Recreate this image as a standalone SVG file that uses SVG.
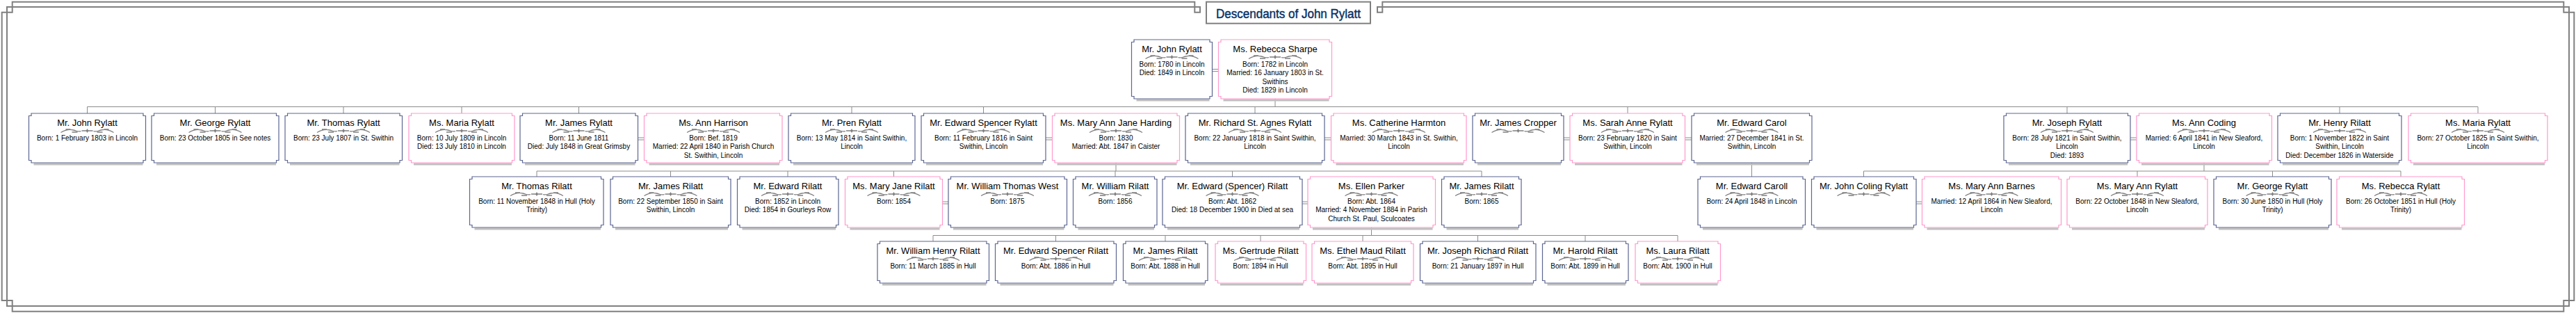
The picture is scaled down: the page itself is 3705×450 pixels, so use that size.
<svg xmlns="http://www.w3.org/2000/svg" xmlns:xlink="http://www.w3.org/1999/xlink" width="3705" height="450" viewBox="0 0 3705 450">
<style>
.m{fill:#fff;stroke:#5c6692;stroke-width:1.2}
.f{fill:#fff;stroke:#ff99cc;stroke-width:1.2}
.sh{fill:#c0c0c0}
.nm{font-family:"Liberation Sans",Arial,sans-serif;font-size:13px;fill:#000;text-anchor:middle}
.dt{font-family:"Liberation Sans",Arial,sans-serif;font-size:10px;fill:#000;text-anchor:middle}
.cn{fill:none;stroke:#8c8c8c;stroke-width:1}
.fr{fill:none;stroke:#808080;stroke-width:2}
.tt{font-family:"Liberation Sans",Arial,sans-serif;font-size:18px;fill:#0a3366;stroke:#0a3366;stroke-width:0.45;text-anchor:middle}
</style>
<defs>
<g id="orn">
<path d="M-38,2.5 C-32,-1 -26,-2.5 -20,-1 S-13,2 -9,0.5 M38,2.5 C32,-1 26,-2.5 20,-1 S13,2 9,0.5 M-31,-2 H-24 M31,-2 H24 M-8,0 H8 M-22,2 H-14 M22,2 H14" fill="none" stroke="#7f7f7f" stroke-width="1.3"/>
<path d="M0,-3 L1.8,0 L0,3 L-1.8,0 Z" fill="#7f7f7f"/>
</g>
</defs>
<rect width="3705" height="450" fill="#fff"/>
<g id="frame">
<path class="fr" d="M1726,10 H10 V440 H3695 V10 H1981 V17.7 H1988.3 V2.7 H3687.3 V17.7 H3702.3 V432 H3687.3 V447.7 H17.7 V432 H2.7 V17.7 H17.7 V2.7 H1718.3 V17.7 H1726 Z"/>
<rect class="fr" x="1735" y="2.7" width="236" height="31" fill="#fff"/>
<text class="tt" x="1853" y="26" textLength="208" lengthAdjust="spacingAndGlyphs">Descendants of John Rylatt</text>
</g>
<g id="connectors" class="cn">
<path d="M1834,142 V153.5 M125.5,153.5 H3564 M125.5,153.5 V163 M309.5,153.5 V163 M494,153.5 V163 M664,153.5 V163 M832.5,153.5 V163 M1225,153.5 V163 M1414.5,153.5 V163 M1805,153.5 V163 M2341,153.5 V163 M2973,153.5 V163 M3365,153.5 V163 M3564,153.5 V163"/>
<path d="M1605,234 V246 M772,246 H2131 M772,246 V254 M964.5,246 V254 M1133,246 V254 M1285.5,246 V254 M1604,246 V254 M1772.5,246 V254 M2131,246 V254"/>
<path d="M2519.5,234 V254"/>
<path d="M3170,234 V246 M2680.5,246 H3453 M2680.5,246 V254 M3074,246 V254 M3268.5,246 V254 M3453,246 V254"/>
<path d="M1972.5,327 V338.5 M1342,338.5 H2413 M1342,338.5 V347 M1518.5,338.5 V347 M1676,338.5 V347 M1813,338.5 V347 M1960,338.5 V347 M2125.5,338.5 V347 M2280,338.5 V347 M2413,338.5 V347"/>
<path d="M1743.5,99.5 H1752.5 M1743.5,102.5 H1752.5"/>
<path d="M917.5,198 H926.5 M917.5,201 H926.5 M1504,198 H1513.5 M1504,201 H1513.5 M1905,198 H1914.5 M1905,201 H1914.5 M2249,198 H2258 M2249,201 H2258 M2423.5,198 H2433 M2423.5,201 H2433 M3064,198 H3073 M3064,201 H3073"/>
<path d="M1355.5,290 H1364 M1355.5,293 H1364 M1873,290 H1881 M1873,293 H1881 M2756,290 H2764.5 M2756,293 H2764.5"/>
</g>

<g id="g1-john-rylatt"><rect class="sh" x="1634.5" y="142.5" width="105" height="3"/><path class="m" d="M1631,57H1740V60.5H1743.5V138.5H1740V142H1631V138.5H1627.5V60.5H1631Z"/><text class="nm" x="1685.5" y="75">Mr. John Rylatt</text><use xlink:href="#orn" x="1685.5" y="82"/><text class="dt" x="1685.5" y="95.5">Born: 1780 in Lincoln</text><text class="dt" x="1685.5" y="108">Died: 1849 in Lincoln</text></g>
<g id="g1-rebecca-sharpe"><rect class="sh" x="1759.5" y="142.5" width="152" height="3"/><path class="f" d="M1756,57H1912V60.5H1915.5V138.5H1912V142H1756V138.5H1752.5V60.5H1756Z"/><text class="nm" x="1834" y="75">Ms. Rebecca Sharpe</text><use xlink:href="#orn" x="1834" y="82"/><text class="dt" x="1834" y="95.5">Born: 1782 in Lincoln</text><text class="dt" x="1834" y="108">Married: 16 January 1803 in St.</text><text class="dt" x="1834" y="120.5">Swithins</text><text class="dt" x="1834" y="133">Died: 1829 in Lincoln</text></g>

<g id="g2-john-rylatt"><rect class="sh" x="48.5" y="234.5" width="157" height="3"/><path class="m" d="M45,163H206V166.5H209.5V230.5H206V234H45V230.5H41.5V166.5H45Z"/><text class="nm" x="125.5" y="181">Mr. John Rylatt</text><use xlink:href="#orn" x="125.5" y="188"/><text class="dt" x="125.5" y="201.5">Born: 1 February 1803 in Lincoln</text></g>
<g id="g2-george-rylatt"><rect class="sh" x="225" y="234.5" width="172" height="3"/><path class="m" d="M221.5,163H397.5V166.5H401V230.5H397.5V234H221.5V230.5H218V166.5H221.5Z"/><text class="nm" x="309.5" y="181">Mr. George Rylatt</text><use xlink:href="#orn" x="309.5" y="188"/><text class="dt" x="309.5" y="201.5">Born: 23 October 1805 in See notes</text></g>
<g id="g2-thomas-rylatt"><rect class="sh" x="417" y="234.5" width="157.5" height="3"/><path class="m" d="M413.5,163H575V166.5H578.5V230.5H575V234H413.5V230.5H410V166.5H413.5Z"/><text class="nm" x="494" y="181">Mr. Thomas Rylatt</text><use xlink:href="#orn" x="494" y="188"/><text class="dt" x="494" y="201.5">Born: 23 July 1807 in St. Swithin</text></g>
<g id="g2-maria-rylatt"><rect class="sh" x="595" y="234.5" width="141" height="3"/><path class="f" d="M591.5,163H736.5V166.5H740V230.5H736.5V234H591.5V230.5H588V166.5H591.5Z"/><text class="nm" x="664" y="181">Ms. Maria Rylatt</text><use xlink:href="#orn" x="664" y="188"/><text class="dt" x="664" y="201.5">Born: 10 July 1809 in Lincoln</text><text class="dt" x="664" y="214">Died: 13 July 1810 in Lincoln</text></g>
<g id="g2-james-rylatt"><rect class="sh" x="755" y="234.5" width="158.5" height="3"/><path class="m" d="M751.5,163H914V166.5H917.5V230.5H914V234H751.5V230.5H748V166.5H751.5Z"/><text class="nm" x="832.5" y="181">Mr. James Rylatt</text><use xlink:href="#orn" x="832.5" y="188"/><text class="dt" x="832.5" y="201.5">Born: 11 June 1811</text><text class="dt" x="832.5" y="214">Died: July 1848 in Great Grimsby</text></g>
<g id="g2-ann-harrison"><rect class="sh" x="933.5" y="234.5" width="187.5" height="3"/><path class="f" d="M930,163H1121.5V166.5H1125V230.5H1121.5V234H930V230.5H926.5V166.5H930Z"/><text class="nm" x="1026" y="181">Ms. Ann Harrison</text><use xlink:href="#orn" x="1026" y="188"/><text class="dt" x="1026" y="201.5">Born: Bef. 1819</text><text class="dt" x="1026" y="214">Married: 22 April 1840 in Parish Church</text><text class="dt" x="1026" y="226.5">St. Swithin, Lincoln</text></g>
<g id="g2-pren-rylatt"><rect class="sh" x="1141" y="234.5" width="171" height="3"/><path class="m" d="M1137.5,163H1312.5V166.5H1316V230.5H1312.5V234H1137.5V230.5H1134V166.5H1137.5Z"/><text class="nm" x="1225" y="181">Mr. Pren Rylatt</text><use xlink:href="#orn" x="1225" y="188"/><text class="dt" x="1225" y="201.5">Born: 13 May 1814 in Saint Swithin,</text><text class="dt" x="1225" y="214">Lincoln</text></g>
<g id="g2-edward-spencer-rylatt"><rect class="sh" x="1332" y="234.5" width="168" height="3"/><path class="m" d="M1328.5,163H1500.5V166.5H1504V230.5H1500.5V234H1328.5V230.5H1325V166.5H1328.5Z"/><text class="nm" x="1414.5" y="181">Mr. Edward Spencer Rylatt</text><use xlink:href="#orn" x="1414.5" y="188"/><text class="dt" x="1414.5" y="201.5">Born: 11 February 1816 in Saint</text><text class="dt" x="1414.5" y="214">Swithin, Lincoln</text></g>
<g id="g2-mary-ann-jane-harding"><rect class="sh" x="1520.5" y="234.5" width="172" height="3"/><path class="f" d="M1517,163H1693V166.5H1696.5V230.5H1693V234H1517V230.5H1513.5V166.5H1517Z"/><text class="nm" x="1605" y="181">Ms. Mary Ann Jane Harding</text><use xlink:href="#orn" x="1605" y="188"/><text class="dt" x="1605" y="201.5">Born: 1830</text><text class="dt" x="1605" y="214">Married: Abt. 1847 in Caister</text></g>
<g id="g2-richard-st-agnes-rylatt"><rect class="sh" x="1712" y="234.5" width="189" height="3"/><path class="m" d="M1708.5,163H1901.5V166.5H1905V230.5H1901.5V234H1708.5V230.5H1705V166.5H1708.5Z"/><text class="nm" x="1805" y="181">Mr. Richard St. Agnes Rylatt</text><use xlink:href="#orn" x="1805" y="188"/><text class="dt" x="1805" y="201.5">Born: 22 January 1818 in Saint Swithin,</text><text class="dt" x="1805" y="214">Lincoln</text></g>
<g id="g2-catherine-harmton"><rect class="sh" x="1921.5" y="234.5" width="183.5" height="3"/><path class="f" d="M1918,163H2105.5V166.5H2109V230.5H2105.5V234H1918V230.5H1914.5V166.5H1918Z"/><text class="nm" x="2012" y="181">Ms. Catherine Harmton</text><use xlink:href="#orn" x="2012" y="188"/><text class="dt" x="2012" y="201.5">Married: 30 March 1843 in St. Swithin,</text><text class="dt" x="2012" y="214">Lincoln</text></g>
<g id="g2-james-cropper"><rect class="sh" x="2125" y="234.5" width="120" height="3"/><path class="m" d="M2121.5,163H2245.5V166.5H2249V230.5H2245.5V234H2121.5V230.5H2118V166.5H2121.5Z"/><text class="nm" x="2183.5" y="181">Mr. James Cropper</text><use xlink:href="#orn" x="2183.5" y="188"/></g>
<g id="g2-sarah-anne-rylatt"><rect class="sh" x="2265" y="234.5" width="154.5" height="3"/><path class="f" d="M2261.5,163H2420V166.5H2423.5V230.5H2420V234H2261.5V230.5H2258V166.5H2261.5Z"/><text class="nm" x="2341" y="181">Ms. Sarah Anne Rylatt</text><use xlink:href="#orn" x="2341" y="188"/><text class="dt" x="2341" y="201.5">Born: 23 February 1820 in Saint</text><text class="dt" x="2341" y="214">Swithin, Lincoln</text></g>
<g id="g2-edward-carol"><rect class="sh" x="2440" y="234.5" width="162" height="3"/><path class="m" d="M2436.5,163H2602.5V166.5H2606V230.5H2602.5V234H2436.5V230.5H2433V166.5H2436.5Z"/><text class="nm" x="2519.5" y="181">Mr. Edward Carol</text><use xlink:href="#orn" x="2519.5" y="188"/><text class="dt" x="2519.5" y="201.5">Married: 27 December 1841 in St.</text><text class="dt" x="2519.5" y="214">Swithin, Lincoln</text></g>
<g id="g2-joseph-rylatt"><rect class="sh" x="2889" y="234.5" width="171" height="3"/><path class="m" d="M2885.5,163H3060.5V166.5H3064V230.5H3060.5V234H2885.5V230.5H2882V166.5H2885.5Z"/><text class="nm" x="2973" y="181">Mr. Joseph Rylatt</text><use xlink:href="#orn" x="2973" y="188"/><text class="dt" x="2973" y="201.5">Born: 28 July 1821 in Saint Swithin,</text><text class="dt" x="2973" y="214">Lincoln</text><text class="dt" x="2973" y="226.5">Died: 1893</text></g>
<g id="g2-ann-coding"><rect class="sh" x="3080" y="234.5" width="183.5" height="3"/><path class="f" d="M3076.5,163H3264V166.5H3267.5V230.5H3264V234H3076.5V230.5H3073V166.5H3076.5Z"/><text class="nm" x="3170" y="181">Ms. Ann Coding</text><use xlink:href="#orn" x="3170" y="188"/><text class="dt" x="3170" y="201.5">Married: 6 April 1841 in New Sleaford,</text><text class="dt" x="3170" y="214">Lincoln</text></g>
<g id="g2-henry-rilatt"><rect class="sh" x="3283" y="234.5" width="167" height="3"/><path class="m" d="M3279.5,163H3450.5V166.5H3454V230.5H3450.5V234H3279.5V230.5H3276V166.5H3279.5Z"/><text class="nm" x="3365" y="181">Mr. Henry Rilatt</text><use xlink:href="#orn" x="3365" y="188"/><text class="dt" x="3365" y="201.5">Born: 1 November 1822 in Saint</text><text class="dt" x="3365" y="214">Swithin, Lincoln</text><text class="dt" x="3365" y="226.5">Died: December 1826 in Waterside</text></g>
<g id="g2-maria-rylatt-2"><rect class="sh" x="3471" y="234.5" width="189" height="3"/><path class="f" d="M3467.5,163H3660.5V166.5H3664V230.5H3660.5V234H3467.5V230.5H3464V166.5H3467.5Z"/><text class="nm" x="3564" y="181">Ms. Maria Rylatt</text><use xlink:href="#orn" x="3564" y="188"/><text class="dt" x="3564" y="201.5">Born: 27 October 1825 in Saint Swithin,</text><text class="dt" x="3564" y="214">Lincoln</text></g>

<g id="g3-thomas-rilatt"><rect class="sh" x="682.5" y="327.5" width="181.5" height="3"/><path class="m" d="M679,254H864.5V257.5H868V323.5H864.5V327H679V323.5H675.5V257.5H679Z"/><text class="nm" x="772" y="272">Mr. Thomas Rilatt</text><use xlink:href="#orn" x="772" y="279"/><text class="dt" x="772" y="292.5">Born: 11 November 1848 in Hull (Holy</text><text class="dt" x="772" y="305">Trinity)</text></g>
<g id="g3-james-rilatt"><rect class="sh" x="885" y="327.5" width="162" height="3"/><path class="m" d="M881.5,254H1047.5V257.5H1051V323.5H1047.5V327H881.5V323.5H878V257.5H881.5Z"/><text class="nm" x="964.5" y="272">Mr. James Rilatt</text><use xlink:href="#orn" x="964.5" y="279"/><text class="dt" x="964.5" y="292.5">Born: 22 September 1850 in Saint</text><text class="dt" x="964.5" y="305">Swithin, Lincoln</text></g>
<g id="g3-edward-rilatt"><rect class="sh" x="1067.5" y="327.5" width="134.5" height="3"/><path class="m" d="M1064,254H1202.5V257.5H1206V323.5H1202.5V327H1064V323.5H1060.5V257.5H1064Z"/><text class="nm" x="1133" y="272">Mr. Edward Rilatt</text><use xlink:href="#orn" x="1133" y="279"/><text class="dt" x="1133" y="292.5">Born: 1852 in Lincoln</text><text class="dt" x="1133" y="305">Died: 1854 in Gourleys Row</text></g>
<g id="g3-mary-jane-rilatt"><rect class="sh" x="1222.5" y="327.5" width="129" height="3"/><path class="f" d="M1219,254H1352V257.5H1355.5V323.5H1352V327H1219V323.5H1215.5V257.5H1219Z"/><text class="nm" x="1285.5" y="272">Ms. Mary Jane Rilatt</text><use xlink:href="#orn" x="1285.5" y="279"/><text class="dt" x="1285.5" y="292.5">Born: 1854</text></g>
<g id="g3-william-thomas-west"><rect class="sh" x="1371" y="327.5" width="159.5" height="3"/><path class="m" d="M1367.5,254H1531V257.5H1534.5V323.5H1531V327H1367.5V323.5H1364V257.5H1367.5Z"/><text class="nm" x="1449" y="272">Mr. William Thomas West</text><use xlink:href="#orn" x="1449" y="279"/><text class="dt" x="1449" y="292.5">Born: 1875</text></g>
<g id="g3-william-rilatt"><rect class="sh" x="1550.5" y="327.5" width="109.5" height="3"/><path class="m" d="M1547,254H1660.5V257.5H1664V323.5H1660.5V327H1547V323.5H1543.5V257.5H1547Z"/><text class="nm" x="1604" y="272">Mr. William Rilatt</text><use xlink:href="#orn" x="1604" y="279"/><text class="dt" x="1604" y="292.5">Born: 1856</text></g>
<g id="g3-edward-spencer-rilatt"><rect class="sh" x="1679" y="327.5" width="190" height="3"/><path class="m" d="M1675.5,254H1869.5V257.5H1873V323.5H1869.5V327H1675.5V323.5H1672V257.5H1675.5Z"/><text class="nm" x="1772.5" y="272">Mr. Edward (Spencer) Rilatt</text><use xlink:href="#orn" x="1772.5" y="279"/><text class="dt" x="1772.5" y="292.5">Born: Abt. 1862</text><text class="dt" x="1772.5" y="305">Died: 18 December 1900 in Died at sea</text></g>
<g id="g3-ellen-parker"><rect class="sh" x="1888" y="327.5" width="172.5" height="3"/><path class="f" d="M1884.5,254H2061V257.5H2064.5V323.5H2061V327H1884.5V323.5H1881V257.5H1884.5Z"/><text class="nm" x="1972.5" y="272">Ms. Ellen Parker</text><use xlink:href="#orn" x="1972.5" y="279"/><text class="dt" x="1972.5" y="292.5">Born: Abt. 1864</text><text class="dt" x="1972.5" y="305">Married: 4 November 1884 in Parish</text><text class="dt" x="1972.5" y="317.5">Church St. Paul, Sculcoates</text></g>
<g id="g3-james-rilatt-2"><rect class="sh" x="2080.5" y="327.5" width="103.5" height="3"/><path class="m" d="M2077,254H2184.5V257.5H2188V323.5H2184.5V327H2077V323.5H2073.5V257.5H2077Z"/><text class="nm" x="2131" y="272">Mr. James Rilatt</text><use xlink:href="#orn" x="2131" y="279"/><text class="dt" x="2131" y="292.5">Born: 1865</text></g>
<g id="g3-edward-caroll"><rect class="sh" x="2449" y="327.5" width="143.5" height="3"/><path class="m" d="M2445.5,254H2593V257.5H2596.5V323.5H2593V327H2445.5V323.5H2442V257.5H2445.5Z"/><text class="nm" x="2519.5" y="272">Mr. Edward Caroll</text><use xlink:href="#orn" x="2519.5" y="279"/><text class="dt" x="2519.5" y="292.5">Born: 24 April 1848 in Lincoln</text></g>
<g id="g3-john-coling-rylatt"><rect class="sh" x="2612.5" y="327.5" width="139.5" height="3"/><path class="m" d="M2609,254H2752.5V257.5H2756V323.5H2752.5V327H2609V323.5H2605.5V257.5H2609Z"/><text class="nm" x="2680.5" y="272">Mr. John Coling Rylatt</text><use xlink:href="#orn" x="2680.5" y="279"/></g>
<g id="g3-mary-ann-barnes"><rect class="sh" x="2771.5" y="327.5" width="189" height="3"/><path class="f" d="M2768,254H2961V257.5H2964.5V323.5H2961V327H2768V323.5H2764.5V257.5H2768Z"/><text class="nm" x="2864.5" y="272">Ms. Mary Ann Barnes</text><use xlink:href="#orn" x="2864.5" y="279"/><text class="dt" x="2864.5" y="292.5">Married: 12 April 1864 in New Sleaford,</text><text class="dt" x="2864.5" y="305">Lincoln</text></g>
<g id="g3-mary-ann-rylatt"><rect class="sh" x="2980" y="327.5" width="191" height="3"/><path class="f" d="M2976.5,254H3171.5V257.5H3175V323.5H3171.5V327H2976.5V323.5H2973V257.5H2976.5Z"/><text class="nm" x="3074" y="272">Ms. Mary Ann Rylatt</text><use xlink:href="#orn" x="3074" y="279"/><text class="dt" x="3074" y="292.5">Born: 22 October 1848 in New Sleaford,</text><text class="dt" x="3074" y="305">Lincoln</text></g>
<g id="g3-george-rylatt"><rect class="sh" x="3191" y="327.5" width="158" height="3"/><path class="m" d="M3187.5,254H3349.5V257.5H3353V323.5H3349.5V327H3187.5V323.5H3184V257.5H3187.5Z"/><text class="nm" x="3268.5" y="272">Mr. George Rylatt</text><use xlink:href="#orn" x="3268.5" y="279"/><text class="dt" x="3268.5" y="292.5">Born: 30 June 1850 in Hull (Holy</text><text class="dt" x="3268.5" y="305">Trinity)</text></g>
<g id="g3-rebecca-rylatt"><rect class="sh" x="3368" y="327.5" width="172.5" height="3"/><path class="f" d="M3364.5,254H3541V257.5H3544.5V323.5H3541V327H3364.5V323.5H3361V257.5H3364.5Z"/><text class="nm" x="3453" y="272">Ms. Rebecca Rylatt</text><use xlink:href="#orn" x="3453" y="279"/><text class="dt" x="3453" y="292.5">Born: 26 October 1851 in Hull (Holy</text><text class="dt" x="3453" y="305">Trinity)</text></g>

<g id="g4-william-henry-rilatt"><rect class="sh" x="1269" y="407.5" width="149.5" height="3"/><path class="m" d="M1265.5,347H1419V350.5H1422.5V403.5H1419V407H1265.5V403.5H1262V350.5H1265.5Z"/><text class="nm" x="1342" y="365">Mr. William Henry Rilatt</text><use xlink:href="#orn" x="1342" y="372"/><text class="dt" x="1342" y="385.5">Born: 11 March 1885 in Hull</text></g>
<g id="g4-edward-spencer-rilatt"><rect class="sh" x="1438.5" y="407.5" width="163" height="3"/><path class="m" d="M1435,347H1602V350.5H1605.5V403.5H1602V407H1435V403.5H1431.5V350.5H1435Z"/><text class="nm" x="1518.5" y="365">Mr. Edward Spencer Rilatt</text><use xlink:href="#orn" x="1518.5" y="372"/><text class="dt" x="1518.5" y="385.5">Born: Abt. 1886 in Hull</text></g>
<g id="g4-james-rilatt"><rect class="sh" x="1622.5" y="407.5" width="110.5" height="3"/><path class="m" d="M1619,347H1733.5V350.5H1737V403.5H1733.5V407H1619V403.5H1615.5V350.5H1619Z"/><text class="nm" x="1676" y="365">Mr. James Rilatt</text><use xlink:href="#orn" x="1676" y="372"/><text class="dt" x="1676" y="385.5">Born: Abt. 1888 in Hull</text></g>
<g id="g4-gertrude-rilatt"><rect class="sh" x="1755" y="407.5" width="119.5" height="3"/><path class="f" d="M1751.5,347H1875V350.5H1878.5V403.5H1875V407H1751.5V403.5H1748V350.5H1751.5Z"/><text class="nm" x="1813" y="365">Ms. Gertrude Rilatt</text><use xlink:href="#orn" x="1813" y="372"/><text class="dt" x="1813" y="385.5">Born: 1894 in Hull</text></g>
<g id="g4-ethel-maud-rilatt"><rect class="sh" x="1894" y="407.5" width="135" height="3"/><path class="f" d="M1890.5,347H2029.5V350.5H2033V403.5H2029.5V407H1890.5V403.5H1887V350.5H1890.5Z"/><text class="nm" x="1960" y="365">Ms. Ethel Maud Rilatt</text><use xlink:href="#orn" x="1960" y="372"/><text class="dt" x="1960" y="385.5">Born: Abt. 1895 in Hull</text></g>
<g id="g4-joseph-richard-rilatt"><rect class="sh" x="2049.5" y="407.5" width="155.5" height="3"/><path class="m" d="M2046,347H2205.5V350.5H2209V403.5H2205.5V407H2046V403.5H2042.5V350.5H2046Z"/><text class="nm" x="2125.5" y="365">Mr. Joseph Richard Rilatt</text><use xlink:href="#orn" x="2125.5" y="372"/><text class="dt" x="2125.5" y="385.5">Born: 21 January 1897 in Hull</text></g>
<g id="g4-harold-rilatt"><rect class="sh" x="2225.5" y="407.5" width="112.5" height="3"/><path class="m" d="M2222,347H2338.5V350.5H2342V403.5H2338.5V407H2222V403.5H2218.5V350.5H2222Z"/><text class="nm" x="2280" y="365">Mr. Harold Rilatt</text><use xlink:href="#orn" x="2280" y="372"/><text class="dt" x="2280" y="385.5">Born: Abt. 1899 in Hull</text></g>
<g id="g4-laura-rilatt"><rect class="sh" x="2359" y="407.5" width="111.5" height="3"/><path class="f" d="M2355.5,347H2471V350.5H2474.5V403.5H2471V407H2355.5V403.5H2352V350.5H2355.5Z"/><text class="nm" x="2413" y="365">Ms. Laura Rilatt</text><use xlink:href="#orn" x="2413" y="372"/><text class="dt" x="2413" y="385.5">Born: Abt. 1900 in Hull</text></g>
</svg>
